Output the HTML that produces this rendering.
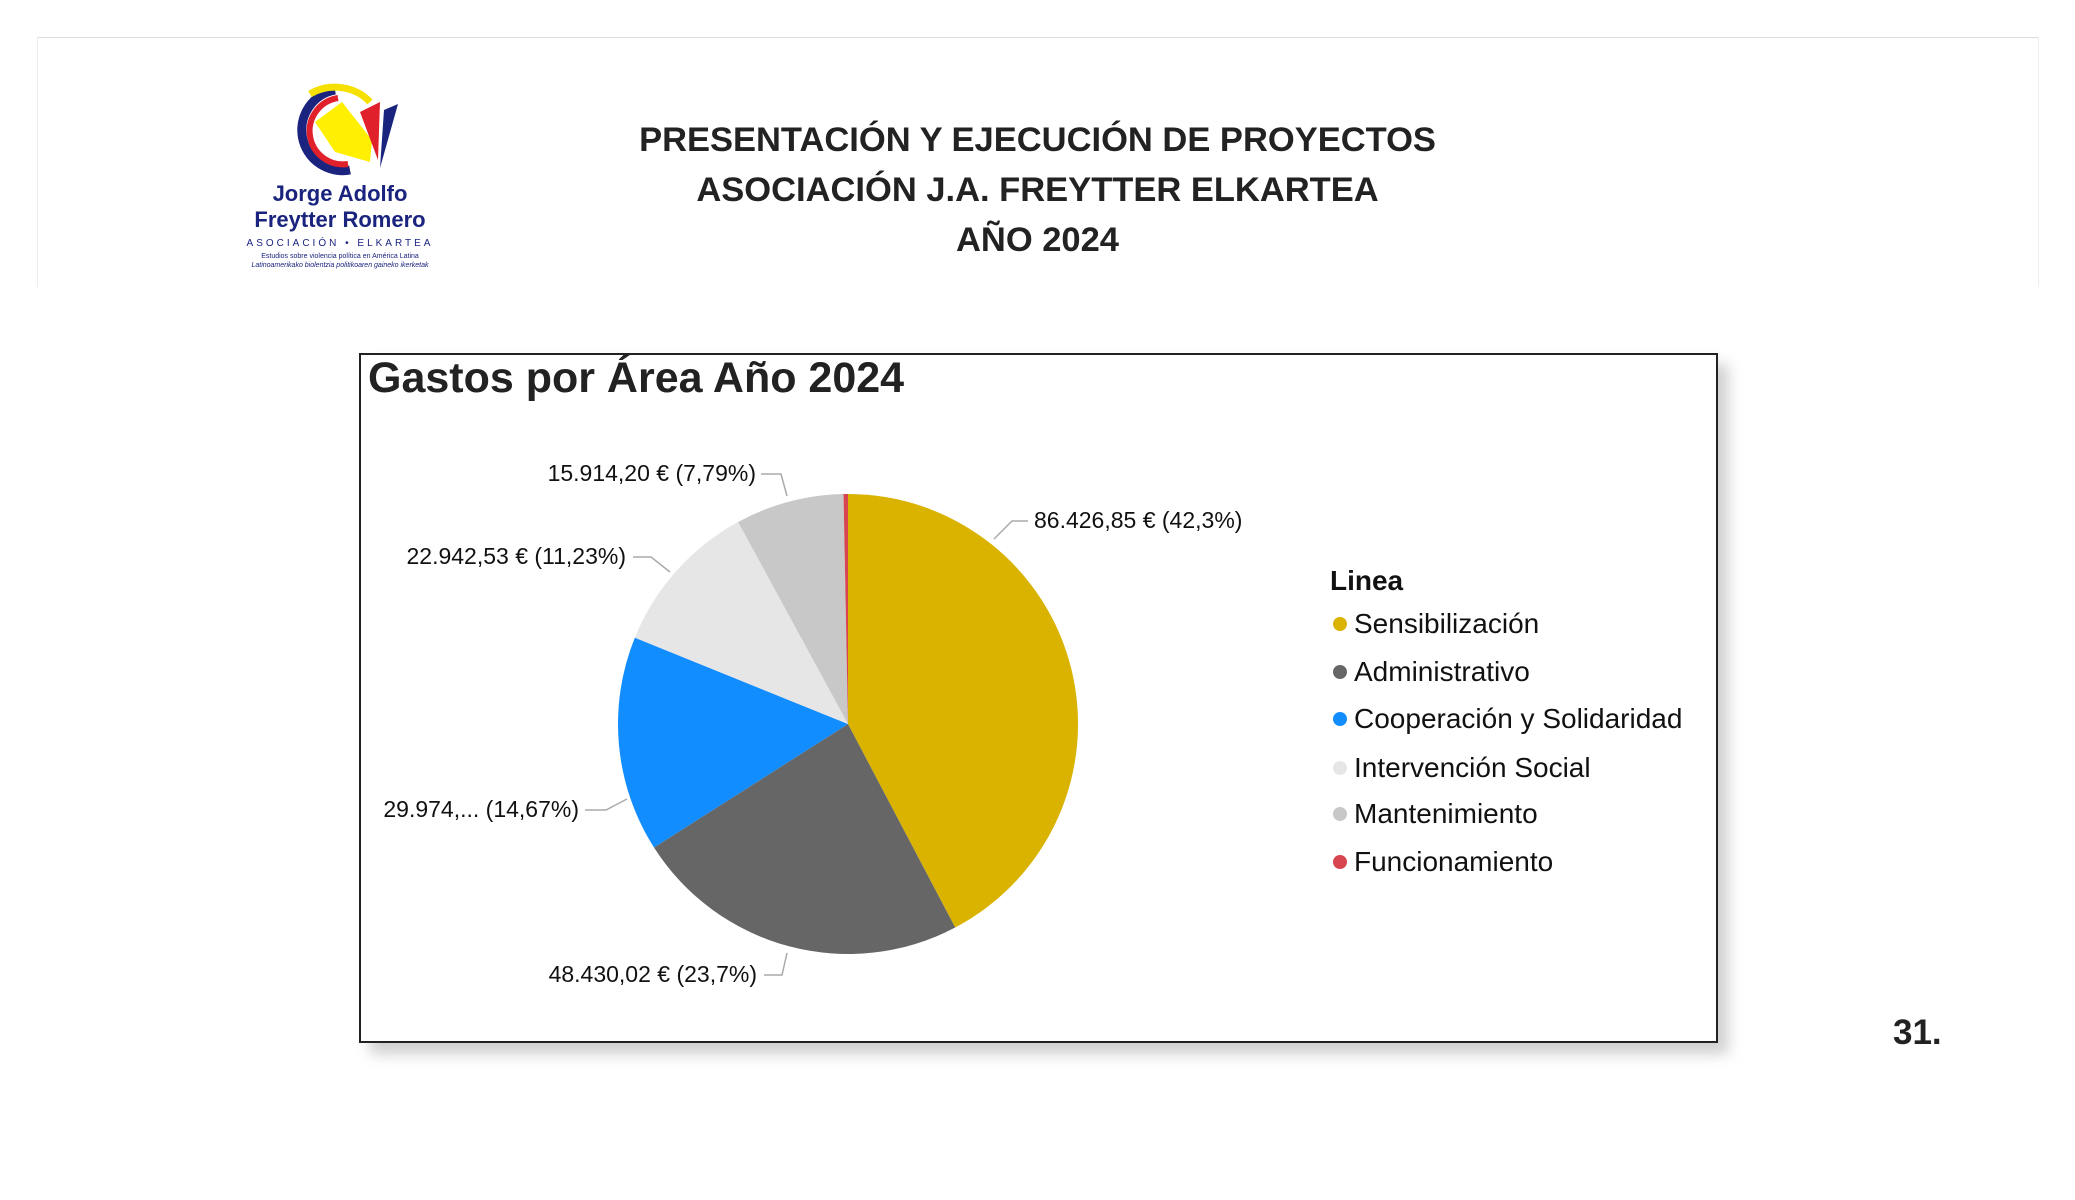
<!DOCTYPE html>
<html><head><meta charset="utf-8">
<style>
html,body{margin:0;padding:0;background:#fff;}
body{width:2075px;height:1200px;position:relative;overflow:hidden;font-family:"Liberation Sans",sans-serif;}
.t{position:absolute;white-space:nowrap;}
.hd{left:0;width:2075px;text-align:center;font-weight:bold;font-size:34.5px;color:#222;}
.lab{font-size:23px;color:#111;}
.leg{font-size:28px;color:#111;left:1354px;}
.dot{position:absolute;width:14px;height:14px;border-radius:50%;left:1333px;}
</style></head><body>
<div style="position:absolute;left:37px;top:37px;width:2001px;height:0;border-top:1px solid #ddd;"></div>
<div style="position:absolute;left:37px;top:37px;width:0;height:250px;border-left:1px solid #eee;"></div>
<div style="position:absolute;left:2038px;top:37px;width:0;height:250px;border-left:1px solid #eee;"></div>

<svg style="position:absolute;left:280px;top:82px" width="130" height="100" viewBox="0 0 130 100">
<path d="M55 8 A40 40 0 1 0 70 88" fill="none" stroke="#1a237e" stroke-width="9"/>
<path d="M58 16 A33 33 0 1 0 68 82" fill="none" stroke="#e0202a" stroke-width="6"/>
<path d="M30 12 A45 40 0 0 1 90 20" fill="none" stroke="#f5e000" stroke-width="7"/>
<polygon points="35,40 62,20 92,58 90,80 55,70" fill="#ffef00"/>
<polygon points="80,30 100,20 98,78" fill="#e0202a"/>
<polygon points="104,28 118,22 100,86" fill="#1a237e"/>
</svg>
<div class="t" style="left:220px;top:181px;width:240px;text-align:center;font-size:22px;font-weight:bold;color:#1a237e;line-height:26px;">Jorge Adolfo<br>Freytter Romero</div>
<div class="t" style="left:220px;top:238px;width:240px;text-align:center;font-size:10px;color:#1a237e;letter-spacing:3px;">ASOCIACIÓN • ELKARTEA</div>
<div class="t" style="left:220px;top:253px;width:240px;text-align:center;font-size:7px;color:#1a237e;">Estudios sobre violencia política en América Latina</div>
<div class="t" style="left:220px;top:262px;width:240px;text-align:center;font-size:7px;color:#1a237e;font-style:italic;">Latinoamerikako biolentzia politikoaren gaineko ikerketak</div>

<div class="t hd" style="top:121px;left:0;">PRESENTACIÓN Y EJECUCIÓN DE PROYECTOS</div>
<div class="t hd" style="top:171px;left:0;">ASOCIACIÓN J.A. FREYTTER ELKARTEA</div>
<div class="t hd" style="top:221px;left:0;">AÑO 2024</div>

<div style="position:absolute;left:370px;top:364px;width:1358px;height:690px;background:#cfcfcf;filter:blur(7px);"></div>
<div style="position:absolute;left:359px;top:353px;width:1355px;height:686px;border:2px solid #222;background:#fff;"></div>
<div class="t" style="left:368px;top:354px;font-size:43px;font-weight:bold;color:#222;">Gastos por Área Año 2024</div>

<svg style="position:absolute;left:0;top:0" width="2075" height="1200">
<g transform="translate(848,724)">
<path d="M0,0 L0,-230 A230,230 0 0 1 107.2,203.5 Z" fill="#D9B300"/>
<path d="M0,0 L107.2,203.5 A230,230 0 0 1 -194.0,123.5 Z" fill="#666666"/>
<path d="M0,0 L-194.0,123.5 A230,230 0 0 1 -213.2,-86.3 Z" fill="#118DFF"/>
<path d="M0,0 L-213.2,-86.3 A230,230 0 0 1 -109.9,-202.0 Z" fill="#E6E6E6"/>
<path d="M0,0 L-109.9,-202.0 A230,230 0 0 1 -4.5,-230.0 Z" fill="#C8C8C8"/>
<path d="M0,0 L-4.5,-230.0 A230,230 0 0 1 0,-230 Z" fill="#D64550"/>
</g>
<g fill="none" stroke="#aaa" stroke-width="1.5">
<polyline points="994,539 1012,521 1028,521"/>
<polyline points="761,474 781,474 787,496"/>
<polyline points="633,557 651,557 670,572"/>
<polyline points="585,810 606,810 627,799"/>
<polyline points="764,975 782,975 787,953"/>
</g>
</svg>

<div class="t lab" style="left:1034px;top:507px;">86.426,85 € (42,3%)</div>
<div class="t lab" style="right:1319px;top:460px;">15.914,20 € (7,79%)</div>
<div class="t lab" style="right:1449px;top:543px;">22.942,53 € (11,23%)</div>
<div class="t lab" style="right:1496px;top:796px;">29.974,... (14,67%)</div>
<div class="t lab" style="right:1318px;top:961px;">48.430,02 € (23,7%)</div>

<div class="t" style="left:1330px;top:565px;font-size:28px;font-weight:bold;color:#111;">Linea</div>
<div class="dot" style="top:617px;background:#D9B300"></div><div class="t leg" style="top:608px;">Sensibilización</div>
<div class="dot" style="top:665px;background:#666666"></div><div class="t leg" style="top:656px;">Administrativo</div>
<div class="dot" style="top:712px;background:#118DFF"></div><div class="t leg" style="top:703px;">Cooperación y Solidaridad</div>
<div class="dot" style="top:761px;background:#E6E6E6"></div><div class="t leg" style="top:752px;">Intervención Social</div>
<div class="dot" style="top:807px;background:#C8C8C8"></div><div class="t leg" style="top:798px;">Mantenimiento</div>
<div class="dot" style="top:855px;background:#D64550"></div><div class="t leg" style="top:846px;">Funcionamiento</div>

<div class="t" style="left:1893px;top:1013px;font-size:35px;font-weight:bold;color:#222;">31.</div>
</body></html>
